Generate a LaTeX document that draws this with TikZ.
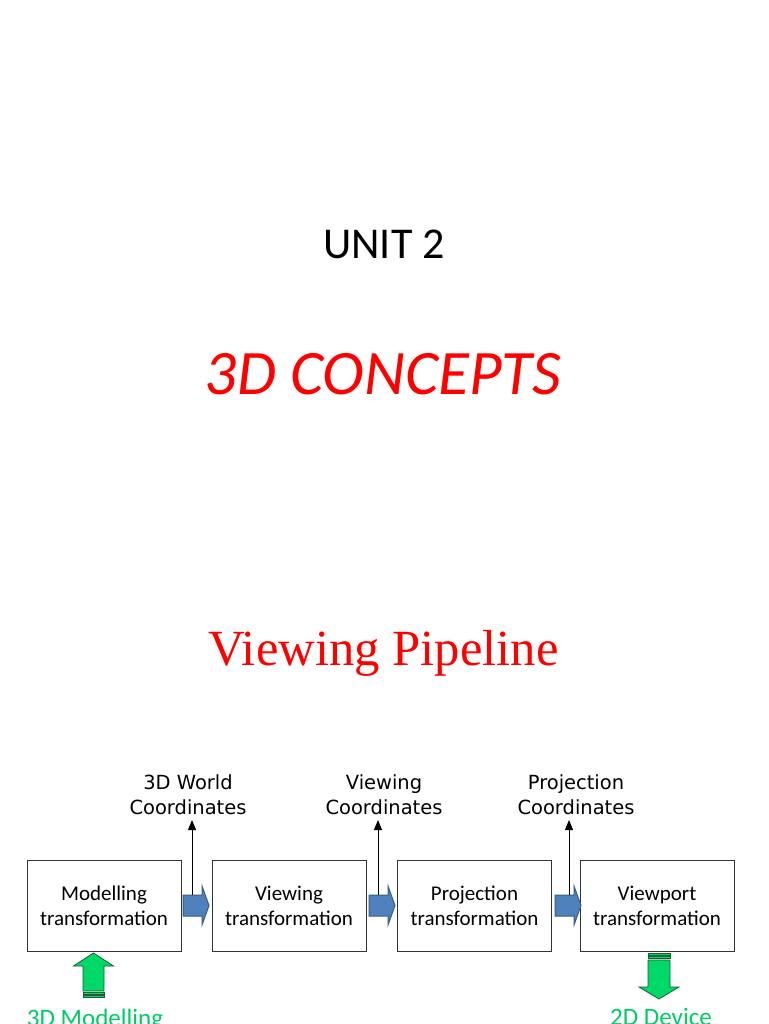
\documentclass[tikz,border=0pt]{standalone}
\usepackage{fontspec}
\usepackage{tikz}
\usetikzlibrary{arrows.meta}
\newfontfamily\calib{Carlito}
\newfontfamily\handfont{DejaVu Sans}
\newfontfamily\ttlfont{Liberation Serif}
\definecolor{flowblue}{HTML}{4F81BD}
\definecolor{flowedge}{HTML}{385D8A}
\definecolor{feedgreen}{HTML}{00D968}
\definecolor{feededge}{HTML}{1E5C36}
\definecolor{feedtext}{HTML}{00CC66}

\begin{document}
\begin{tikzpicture}
	[x=0.75pt, y=-0.75pt,%
	stage/.style ={rectangle,	draw=black!80,	fill=white,	line width=0.75pt,	inner sep=0pt,	minimum width=115.5pt,	minimum height=68.25pt,	align=center,	font={\calib\fontsize{15.75pt}{18.75pt}\selectfont}},%
	tag/.style   ={align=center,	inner sep=0pt,	font={\handfont\fontsize{14.6pt}{18.75pt}\selectfont}},%
	flow/.style  ={fill=flowblue,	draw=flowedge,	line width=0.75pt,	line join=miter},%
	feed/.style  ={fill=feedgreen,	draw=feededge,	line width=0.6pt},%
	feedlabel/.style={anchor=base,	inner sep=0pt,	text=feedtext,	font={\calib\fontsize{18.8pt}{22pt}\selectfont}},%
	]
	\useasboundingbox[fill=white] (0,0) rectangle (768,1024);

	% titles
	\node (unit) at (384,244) [inner sep=0pt, font={\calib\fontsize{33pt}{40pt}\selectfont}] {UNIT 2};
	\node (concepts) at (383,374) [inner sep=0pt, text=red, font={\calib\itshape\fontsize{47.5pt}{56pt}\selectfont}] {3D CONCEPTS};
	\node (pipeline) at (383.5,665) [anchor=base, inner sep=0pt, text=red, font={\ttlfont\fontsize{38pt}{46pt}\selectfont}] {Viewing Pipeline};

	% nodes
	\node (stage0) at (104,905.5) [stage] {Modelling\\transformation};
	\node (stage1) at (289,905.5) [stage] {Viewing\\transformation};
	\node (stage2) at (474.5,905.5) [stage] {Projection\\transformation};
	\node (stage3) at (657,905.5) [stage] {Viewport\\transformation};

	\node (tag0) at (188,795) [tag] {3D World\\Coordinates};
	\node (tag1) at (384,795) [tag] {Viewing\\Coordinates};
	\node (tag2) at (576,795) [tag] {Projection\\Coordinates};

	% block arrows between the stages
	\foreach \x/\l [count=\i from 0] in {183/192, 369/378, 555/569} {
		\draw [flow] (\x,895) -- ++(19,0) -- ++(0,-9) -- ++(7,19.5) -- ++(-7,19.5) -- ++(0,-9) -- ++(-19,0) -- cycle;
		\coordinate (foot\i) at (\l,895);
		\coordinate (head\i) at (\l,820);
	}

	% interconnections
	\foreach \i in {0,1,2} \draw [-{Triangle[length=7.5pt,width=6pt]}, line width=0.75pt] (foot\i) to (head\i);

	% input and output
	\draw [feed] (93.5,953) -- (113.5,966) -- (104,966) -- (104,991) -- (83,991) -- (83,966) -- (73.5,966) -- cycle;
	\draw [feed] (83,992.7) rectangle (104,994.3);
	\draw [feed] (83,995.7) rectangle (104,997.3);

	\draw [feed] (648,953.5) rectangle (670,955.3);
	\draw [feed] (648,956.5) rectangle (670,958.3);
	\draw [feed] (648,960) -- (670,960) -- (670,987) -- (679,987) -- (659,999) -- (639,987) -- (648,987) -- cycle;

	\node (source) at (95,1026) [feedlabel] {3D Modelling};
	\node (device) at (661,1025) [feedlabel] {2D Device};

\end{tikzpicture}
\end{document}
